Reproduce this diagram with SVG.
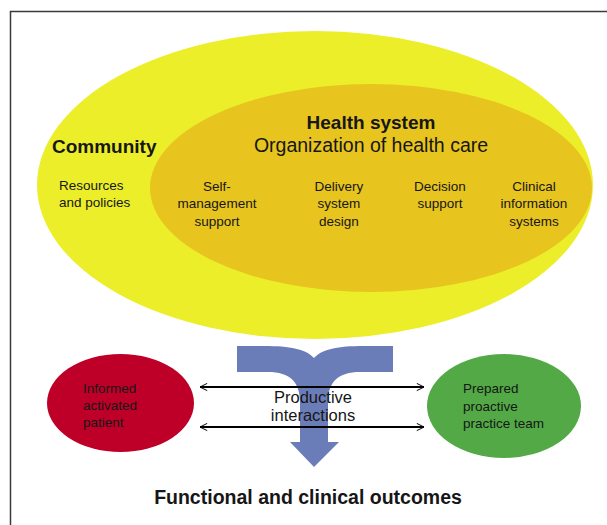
<svg xmlns="http://www.w3.org/2000/svg" width="607" height="525" viewBox="0 0 607 525">
<defs>
<style>
.t{font-family:"Liberation Sans",Arial,sans-serif;fill:#161616}
.s{font-size:13.5px}
.b{font-weight:bold}
.line{stroke:#000;stroke-width:1.8;fill:none}
</style>
<marker id="ah" viewBox="0 0 10 10" refX="9" refY="5" markerWidth="9" markerHeight="9" markerUnits="userSpaceOnUse" orient="auto-start-reverse">
<path d="M1,1 L9,5 L1,9" stroke="#000" stroke-width="1.1" fill="none"/>
</marker>
</defs>
<rect x="0" y="0" width="607" height="525" fill="#fff"/>
<rect x="10.5" y="11.5" width="620" height="540" fill="none" stroke="#3a3a3a" stroke-width="1.5"/>

<g id="community">
<ellipse cx="315" cy="185" rx="278" ry="154" fill="#ECEE2A"/>
<text class="t b" x="52" y="153" font-size="19">Community</text>
<text class="t s" x="59" y="190">Resources</text>
<text class="t s" x="59" y="207">and policies</text>
</g>

<g id="health-system">
<ellipse cx="371" cy="188" rx="221" ry="104" fill="#E7C41E"/>
<text class="t b" x="371" y="129" font-size="19" text-anchor="middle">Health system</text>
<text class="t" x="371" y="152" font-size="19.5" text-anchor="middle">Organization of health care</text>
<g text-anchor="middle">
<text class="t s" x="217" y="191">Self-</text>
<text class="t s" x="217" y="208">management</text>
<text class="t s" x="217" y="226">support</text>
<text class="t s" x="339" y="191">Delivery</text>
<text class="t s" x="339" y="208">system</text>
<text class="t s" x="339" y="226">design</text>
<text class="t s" x="440" y="191">Decision</text>
<text class="t s" x="440" y="208">support</text>
<text class="t s" x="534" y="191">Clinical</text>
<text class="t s" x="534" y="208">information</text>
<text class="t s" x="534" y="226">systems</text>
</g>
</g>

<g id="patient">
<ellipse cx="120.5" cy="403" rx="73.5" ry="49" fill="#BE0029"/>
<text class="t s" x="83" y="393">Informed</text>
<text class="t s" x="83" y="410">activated</text>
<text class="t s" x="83" y="427">patient</text>
</g>

<g id="team">
<ellipse cx="504" cy="406" rx="77" ry="52" fill="#52A946"/>
<text class="t s" x="463" y="393">Prepared</text>
<text class="t s" x="463" y="411">proactive</text>
<text class="t s" x="463" y="428">practice team</text>
</g>

<g id="connectors">
<path id="flow-arrow" d="M237,346 L264,346 C290,346 306,349 314,358 C322,349 338,346 364,346 L393,346 L393,372 L360,372 C338,372 328,382 328,402 L328,442 L339,442 L314,467 L290,442 L300,442 L300,402 C300,382 290,372 268,372 L237,372 Z" fill="#6B7DB8"/>
<line class="line" x1="200" y1="387" x2="424" y2="387" marker-start="url(#ah)" marker-end="url(#ah)"/>
<line class="line" x1="200" y1="427" x2="424" y2="427" marker-start="url(#ah)" marker-end="url(#ah)"/>
</g>

<g id="interactions">
<text class="t" x="313" y="403" font-size="16.5" text-anchor="middle" fill="#222">Productive</text>
<text class="t" x="313" y="421" font-size="16.5" text-anchor="middle" fill="#222">interactions</text>
</g>

<g id="outcomes">
<text class="t b" x="308" y="504" font-size="19.5" text-anchor="middle">Functional and clinical outcomes</text>
</g>
</svg>
